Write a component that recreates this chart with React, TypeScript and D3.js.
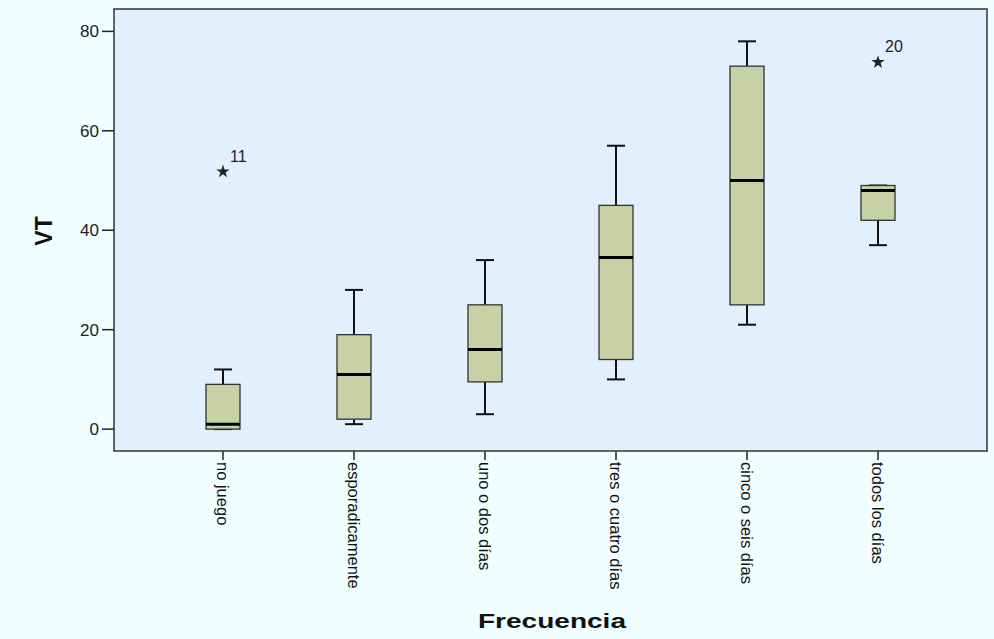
import React from "react";
import * as d3 from "d3";

const categories = ["no juego", "esporadicamente", "uno o dos días", "tres o cuatro días", "cinco o seis días", "todos los días"];
const whiskerLow = [0, 1, 3, 10, 21, 37];
const q1 = [0, 2, 9.5, 14, 25, 42];
const median = [1, 11, 16, 34.5, 50, 48];
const q3 = [9, 19, 25, 45, 73, 49];
const whiskerHigh = [12, 28, 34, 57, 78, 49];
const outlierCategories = ["no juego", "todos los días"];
const outlierValues = [52, 74];
const outlierLabels = ["11", "20"];
const yTicks = [0, 20, 40, 60, 80];

const W = 994;
const H = 639;
const left = 114, right = 987, top = 9, bottom = 451;
const FONT = "'Liberation Sans', Arial, Helvetica, sans-serif";

export default function App() {
  const x = d3.scalePoint<string>().domain(categories).range([left, right]).padding(0.832);
  const y = d3.scaleLinear().domain([-4.4, 84.5]).range([bottom, top]);
  const boxW = 34;
  const capW = 18;
  const star = d3.symbol().type(d3.symbolStar).size(56)();

  return (
    <svg width={W} height={H} style={{ position: "absolute", left: 0, top: 0 }} fontFamily={FONT}>
      <rect x={0} y={0} width={W} height={H} fill="#F0FEFF" />
      <rect x={left} y={top} width={right - left} height={bottom - top} fill="#E2EFFD" />

      {/* y ticks */}
      {yTicks.map((t) => (
        <g key={t}>
          <line x1={left - 12} x2={left} y1={y(t)} y2={y(t)} stroke="#222" strokeWidth={1.5} />
          <text x={left - 15} y={y(t)} dy="0.36em" textAnchor="end" fontSize={17} fill="#222">{t}</text>
        </g>
      ))}

      {/* x ticks + labels */}
      {categories.map((c) => (
        <g key={c}>
          <line x1={x(c)!} x2={x(c)!} y1={bottom} y2={bottom + 9} stroke="#222" strokeWidth={1.5} />
          <text transform={`translate(${x(c)!},${bottom + 11}) rotate(90)`} dy={6} fontSize={16.5} fill="#111">{c}</text>
        </g>
      ))}

      {/* boxes */}
      {categories.map((c, i) => {
        const cx = x(c)!;
        return (
          <g key={"b" + c}>
            <line x1={cx} x2={cx} y1={y(whiskerHigh[i])} y2={y(q3[i])} stroke="#111" strokeWidth={2} />
            <line x1={cx} x2={cx} y1={y(q1[i])} y2={y(whiskerLow[i])} stroke="#111" strokeWidth={2} />
            <line x1={cx - capW / 2} x2={cx + capW / 2} y1={y(whiskerHigh[i])} y2={y(whiskerHigh[i])} stroke="#111" strokeWidth={2} />
            <line x1={cx - capW / 2} x2={cx + capW / 2} y1={y(whiskerLow[i])} y2={y(whiskerLow[i])} stroke="#111" strokeWidth={2} />
            <rect x={cx - boxW / 2} y={y(q3[i])} width={boxW} height={y(q1[i]) - y(q3[i])} fill="#C8D0A6" stroke="#333" strokeWidth={1.3} />
            <line x1={cx - boxW / 2} x2={cx + boxW / 2} y1={y(median[i])} y2={y(median[i])} stroke="#000" strokeWidth={3} />
          </g>
        );
      })}

      {/* outliers */}
      {outlierValues.map((v, i) => {
        const cx = x(outlierCategories[i])!;
        return (
          <g key={"o" + i}>
            <path d={star!} transform={`translate(${cx},${y(v) + 1})`} fill="#222" />
            <text x={cx + 7} y={y(v) - 9} fontSize={16} fill="#222">{outlierLabels[i]}</text>
          </g>
        );
      })}

      {/* frame */}
      <rect x={left} y={top} width={right - left} height={bottom - top} fill="none" stroke="#333" strokeWidth={1.5} />

      {/* axis titles */}
      <text transform={`translate(52,231) rotate(-90)`} textAnchor="middle" fontSize={23} fontWeight="bold" fill="#111">VT</text>
      <text x={552} y={628} textAnchor="middle" fontSize={20} fontWeight="bold" fill="#111" textLength={148} lengthAdjust="spacingAndGlyphs">Frecuencia</text>
    </svg>
  );
}
